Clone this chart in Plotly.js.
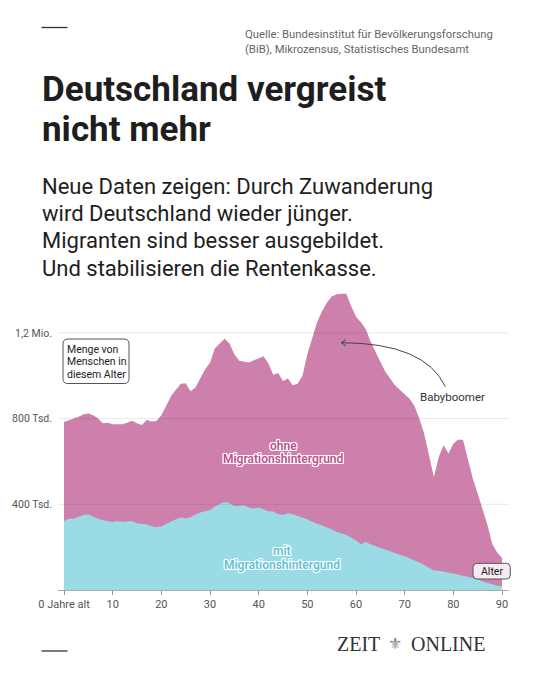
<!DOCTYPE html>
<html>
<head>
<meta charset="utf-8">
<script src="https://cdn.plot.ly/plotly-3.0.1.min.js"></script>
<style>
html,body{margin:0;padding:0;background:#fff;}
#chart{width:544px;height:680px;}
</style>
</head>
<body>
<div id="chart"></div>
<script>
// ---- Data (in thousands of people) ----
const ages = [];
for (let a = 0; a <= 90; a++) ages.push(a);

// total population by age (top edge of pink area)
const totalPop = [
  784, 792, 800, 808, 820, 824, 815, 800, 778, 780,
  774, 772, 773, 780, 790, 778, 770, 793, 786, 789,
  815, 860, 905, 935, 962, 965, 927, 945, 990, 1030,
  1060, 1127, 1150, 1173, 1150, 1100, 1070, 1066, 1062, 1072,
  1082, 1091, 1057, 1005, 1013, 975, 987, 955, 963, 1000,
  1100, 1180, 1250, 1300, 1340, 1370, 1380, 1382, 1383, 1325,
  1275, 1250, 1218, 1160, 1110, 1065, 1020, 985, 955, 935,
  915, 893, 860, 800, 730, 620, 527, 621, 675, 637,
  683, 702, 700, 610, 520, 450, 380, 305, 215, 175,
  150
];

// population with migration background by age (cyan area)
const mitMigration = [
  322, 332, 333, 342, 350, 352, 341, 332, 325, 322,
  317, 322, 317, 320, 322, 311, 310, 306, 298, 294,
  296, 309, 320, 330, 338, 334, 340, 352, 362, 368,
  373, 388, 402, 411, 406, 392, 394, 394, 385, 380,
  385, 378, 368, 366, 354, 351, 358, 354, 346, 338,
  330, 318, 310, 302, 292, 283, 272, 265, 257, 245,
  232, 213, 224, 214, 204, 196, 189, 180, 171, 164,
  157, 148, 139, 128, 117, 103, 91, 90, 87, 82,
  77, 72, 68, 63, 57, 50, 40, 33, 27, 20,
  17
];

const yTickVals = [400, 800, 1200];
const yTickText = ["400 Tsd.", "800 Tsd.", "1,2 Mio."];
const xTickVals = [0, 10, 20, 30, 40, 50, 60, 70, 80, 90];
const xTickText = ["0 Jahre alt", "10", "20", "30", "40", "50", "60", "70", "80", "90"];

// ---- Layout geometry (pixels) ----
const W = 544, H = 680;
const L = 58, R = 509, T = 290, B = 590;
const PW = R - L, PH = B - T;
const px = x => (x - L) / PW;       // pixel -> paper x
const py = y => (B - y) / PH;       // pixel -> paper y

const FONT = "Roboto, 'Noto Sans', sans-serif";
const PINK = "#cd80ab";
const CYAN = "#9adbe6";

function roundRect(x0, y0, x1, y1, r) {
  const P = (x, y) => px(x) + "," + py(y);
  return "M" + P(x0 + r, y0) + " L" + P(x1 - r, y0) +
    " Q" + P(x1, y0) + " " + P(x1, y0 + r) +
    " L" + P(x1, y1 - r) +
    " Q" + P(x1, y1) + " " + P(x1 - r, y1) +
    " L" + P(x0 + r, y1) +
    " Q" + P(x0, y1) + " " + P(x0, y1 - r) +
    " L" + P(x0, y0 + r) +
    " Q" + P(x0, y0) + " " + P(x0 + r, y0) + " Z";
}

const halo = "1px 0 0 #fff, -1px 0 0 #fff, 0 1px 0 #fff, 0 -1px 0 #fff, 1px 1px 0 #fff, -1px -1px 0 #fff, 1px -1px 0 #fff, -1px 1px 0 #fff";

const traces = [
  {
    x: ages, y: totalPop, type: "scatter", mode: "lines",
    fill: "tozeroy", fillcolor: PINK, line: {width: 0, color: PINK},
    hoverinfo: "skip", showlegend: false
  },
  {
    x: ages, y: mitMigration, type: "scatter", mode: "lines",
    fill: "tozeroy", fillcolor: CYAN, line: {width: 0, color: CYAN},
    hoverinfo: "skip", showlegend: false
  }
];

function txt(text, x, y, opts) {
  return Object.assign({
    xref: "paper", yref: "paper", x: px(x), y: py(y),
    text: text, showarrow: false, xanchor: "left", yanchor: "middle",
    font: {family: FONT, size: 11, color: "#222"}
  }, opts || {});
}

const srcFont = {family: FONT, size: 11.3, color: "#666"};
const headFont = {family: FONT, size: 35, color: "#1e1e1e", weight: 700};
const subFont = {family: FONT, size: 22, color: "#1e1e1e"};
const boxFont = {family: FONT, size: 10.5, color: "#222"};
const ohneFont = {family: FONT, size: 12, color: "#c0508c", weight: 600, shadow: halo};
const mitFont = {family: FONT, size: 12, color: "#5cc3d6", weight: 600, shadow: halo};
const logoFont = {family: "'Liberation Serif', serif", size: 20, color: "#333"};

const annotations = [
  // source
  txt("Quelle: Bundesinstitut für Bevölkerungsforschung", 242.5, 35, {font: srcFont}),
  txt("(BiB), Mikrozensus, Statistisches Bundesamt", 242.5, 49.5, {font: srcFont}),
  // headline
  txt("Deutschland vergreist", 40, 90, {font: headFont}),
  txt("nicht mehr", 40, 129, {font: headFont}),
  // subtitle
  txt("Neue Daten zeigen: Durch Zuwanderung", 40, 186, {font: subFont}),
  txt("wird Deutschland wieder jünger.", 40, 213.4, {font: subFont}),
  txt("Migranten sind besser ausgebildet.", 40, 240.8, {font: subFont}),
  txt("Und stabilisieren die Rentenkasse.", 40, 268.2, {font: subFont}),
  // y-axis explanation box
  txt("Menge von", 65, 349.5, {font: boxFont}),
  txt("Menschen in", 65, 361.7, {font: boxFont}),
  txt("diesem Alter", 65, 374, {font: boxFont}),
  // Babyboomer
  txt("Babyboomer", 418, 396.7, {font: {family: FONT, size: 11.5, color: "#333"}}),
  // series labels
  txt("ohne", 283, 446, {xanchor: "center", font: ohneFont}),
  txt("Migrationshintergrund", 283, 459.3, {xanchor: "center", font: ohneFont}),
  txt("mit", 282, 551, {xanchor: "center", font: mitFont}),
  txt("Migrationshintergund", 282, 564.5, {xanchor: "center", font: mitFont}),
  // Alter box
  txt("Alter", 491.7, 571, {xanchor: "center", font: boxFont}),
  // logo
  txt("ZEIT", 335, 643.5, {font: logoFont}),
  txt("⚜", 395, 643.5, {xanchor: "center", font: {family: "'DejaVu Sans', sans-serif", size: 16, color: "#8a8a8a"}}),
  txt("ONLINE", 409, 643.5, {font: logoFont})
];

const shapes = [];
// gridlines on top of the areas
yTickVals.forEach(v => shapes.push({
  type: "line", xref: "paper", yref: "y", x0: 0, x1: 1, y0: v, y1: v,
  line: {color: "rgba(0,0,0,0.09)", width: 1}, layer: "above"
}));
// decorative short lines
shapes.push({type: "line", xref: "paper", yref: "paper", x0: px(41.5), x1: px(67.5), y0: py(27.5), y1: py(27.5), line: {color: "#333", width: 1.3}});
shapes.push({type: "line", xref: "paper", yref: "paper", x0: px(41.5), x1: px(67.5), y0: py(651), y1: py(651), line: {color: "#333", width: 1.3}});
// explanation box
shapes.push({type: "path", xref: "paper", yref: "paper", path: roundRect(63, 339, 129, 383.5, 5),
  line: {color: "#555", width: 1}, fillcolor: "#fff", layer: "above"});
// Alter box
shapes.push({type: "path", xref: "paper", yref: "paper", path: roundRect(473, 563.3, 510.3, 579, 4),
  line: {color: "#555", width: 1}, fillcolor: "#f7eaf1", layer: "above"});
// Babyboomer arrow (curve + head)
const P = (x, y) => px(x) + "," + py(y);
shapes.push({type: "path", xref: "paper", yref: "paper",
  path: "M" + P(445.3, 386.7) + " Q" + P(425, 343) + " " + P(341.8, 342.7),
  line: {color: "#444", width: 1}, layer: "above"});
shapes.push({type: "path", xref: "paper", yref: "paper",
  path: "M" + P(346, 339.6) + " L" + P(341.3, 342.7) + " L" + P(346, 345.8),
  line: {color: "#444", width: 1}, layer: "above"});

const layout = {
  width: W, height: H,
  margin: {l: L, r: W - R, t: T, b: H - B, pad: 0},
  paper_bgcolor: "#fff", plot_bgcolor: "rgba(0,0,0,0)",
  showlegend: false,
  font: {family: FONT, color: "#555"},
  xaxis: {
    range: [-6 / 4.8667, 90 + 7 / 4.8667], fixedrange: true,
    tickvals: xTickVals, ticktext: xTickText,
    ticks: "outside", ticklen: 4, tickcolor: "#999", tickwidth: 1,
    showline: true, linecolor: "#aaa", linewidth: 1,
    showgrid: false, zeroline: false,
    tickfont: {family: FONT, size: 11, color: "#555"}
  },
  yaxis: {
    range: [0, 1400], fixedrange: true,
    tickvals: yTickVals, ticktext: yTickText,
    ticks: "", showgrid: false, zeroline: false, showline: false,
    tickfont: {family: FONT, size: 10.5, color: "#555"},
    ticklabelstandoff: 5
  },
  annotations: annotations,
  shapes: shapes
};

Plotly.newPlot("chart", traces, layout, {displayModeBar: false, staticPlot: true});
</script>
</body>
</html>
